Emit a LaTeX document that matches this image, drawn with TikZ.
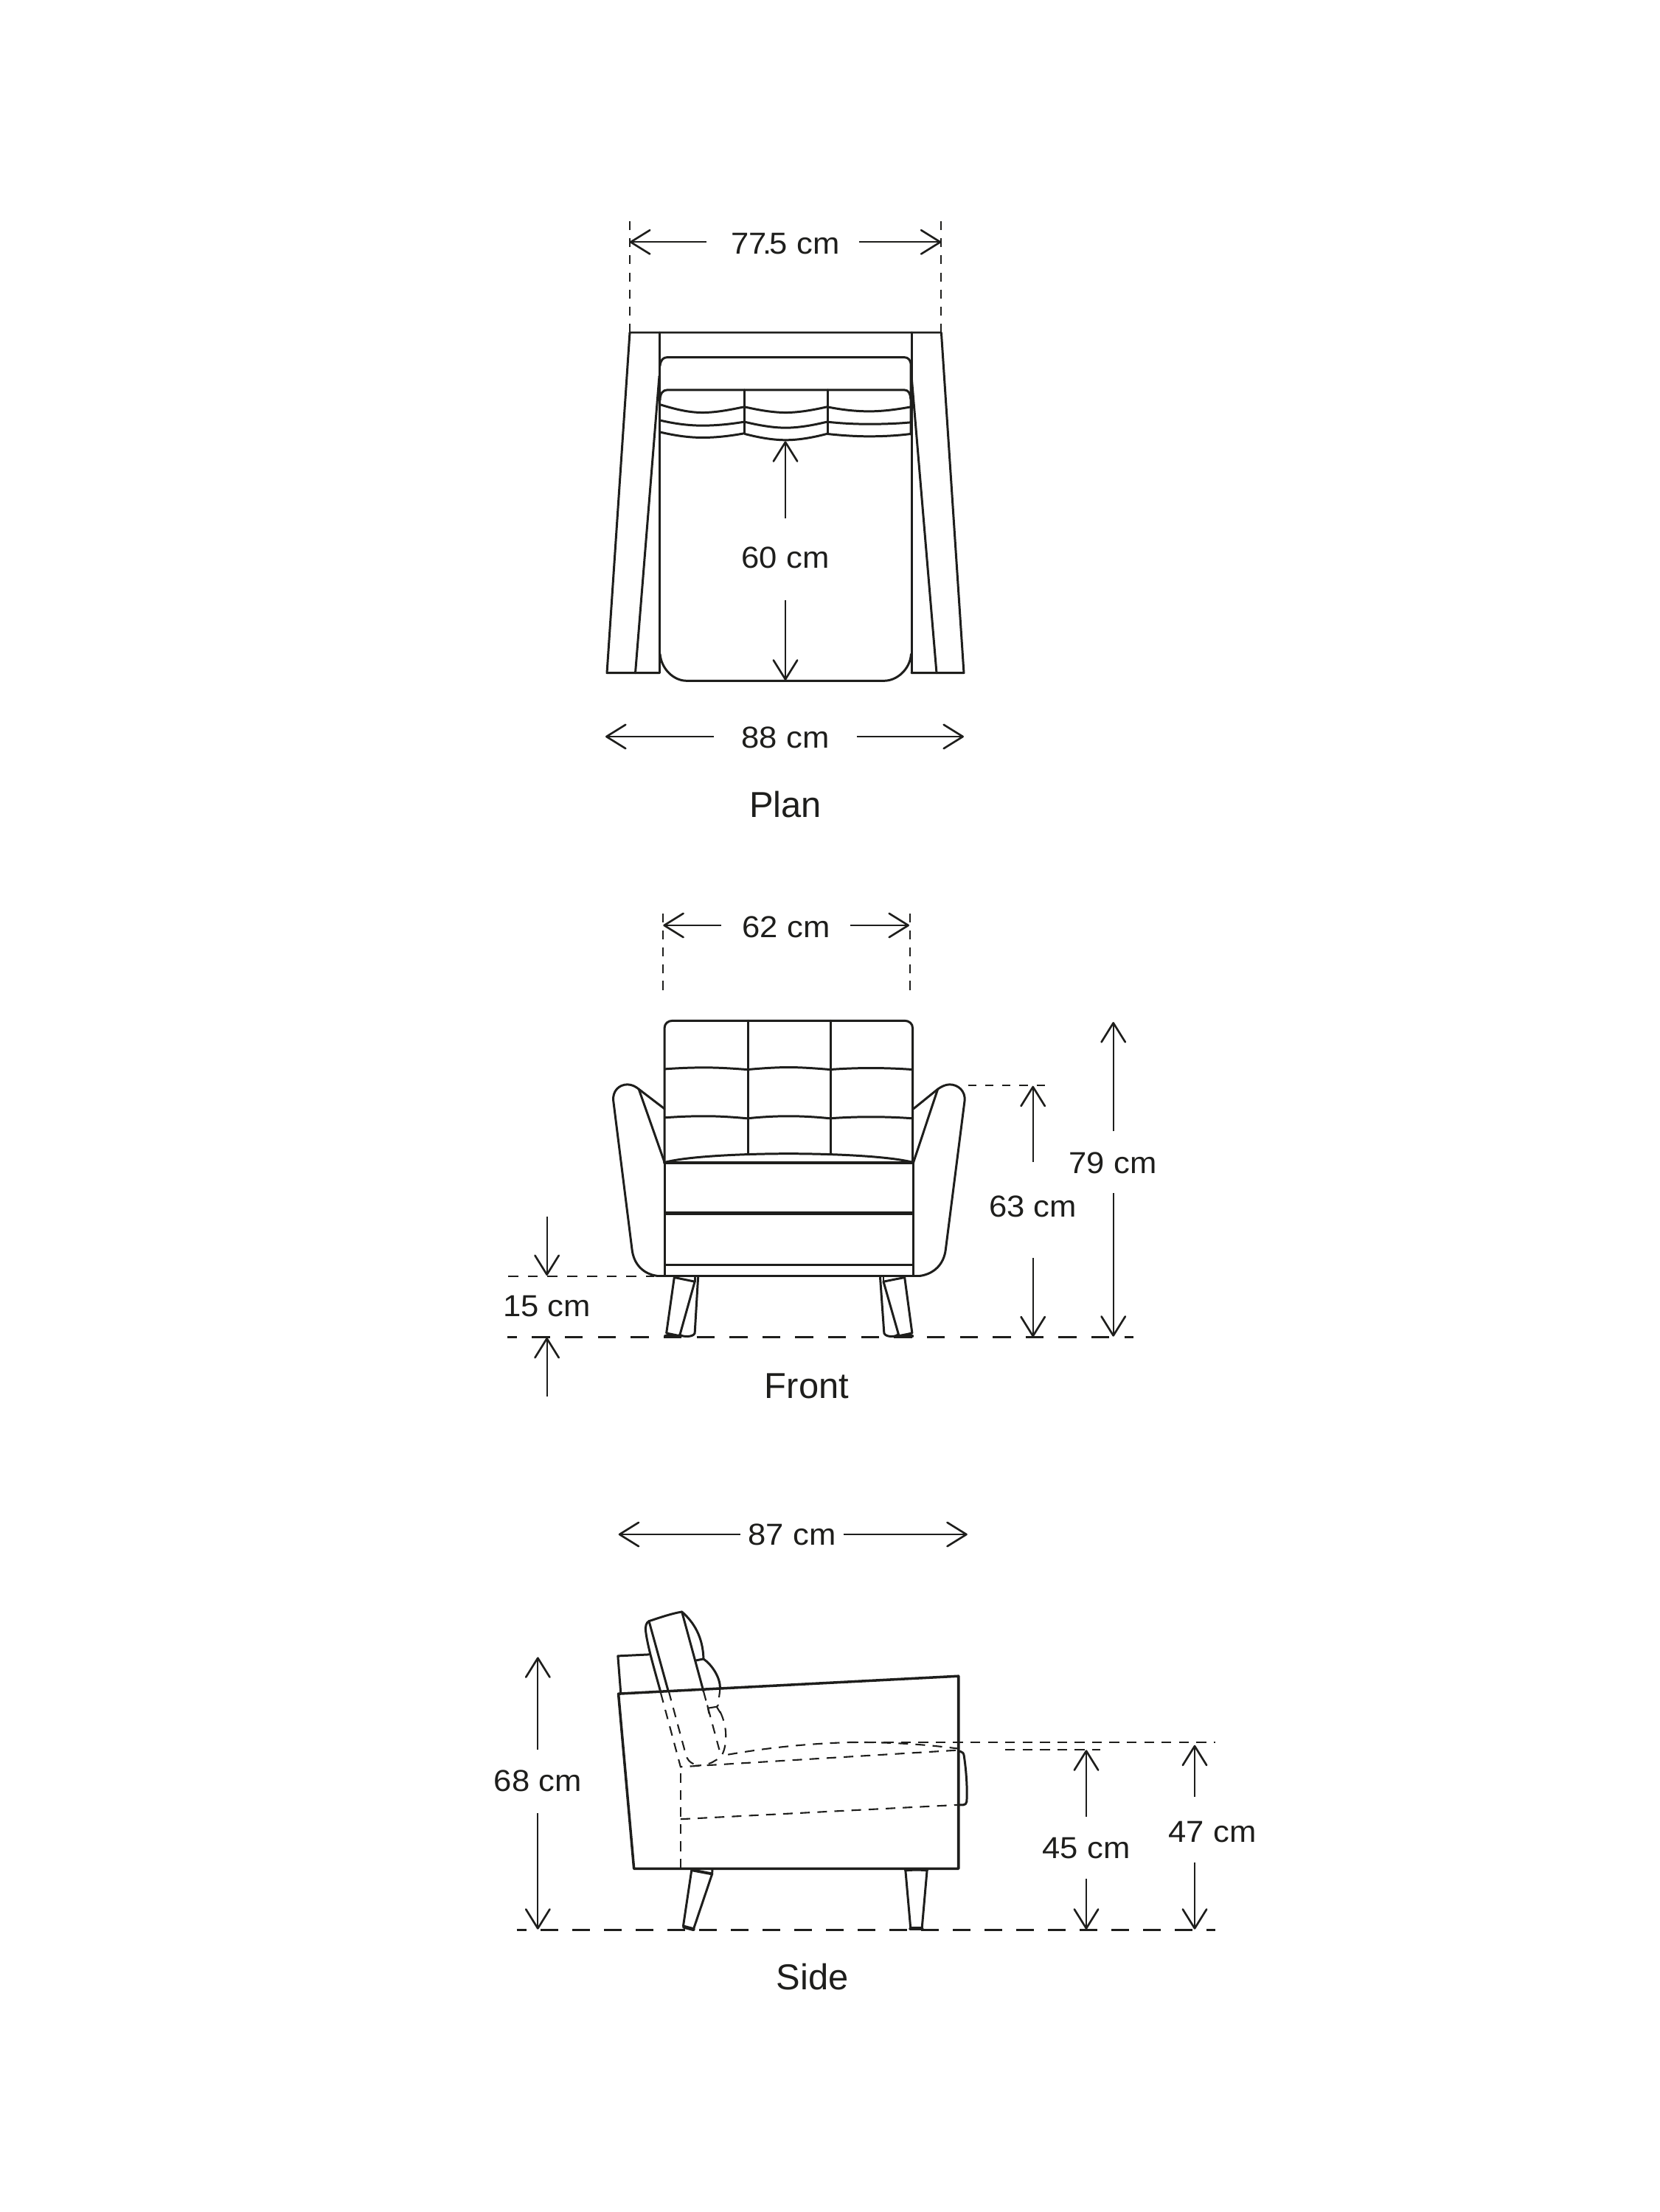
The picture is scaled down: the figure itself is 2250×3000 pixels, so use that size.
\documentclass[tikz,border=0pt]{standalone}
\usepackage{fontspec}
\usetikzlibrary{arrows.meta}
\setmainfont{Liberation Sans}
\newfontfamily\dimfamily[FakeStretch=1.06]{Liberation Sans}
\definecolor{ink}{HTML}{1E1E1C}
\tikzset{
  ink lines/.style={draw=ink,line join=round,line cap=round},
  main/.style={ink lines,line width=.85pt},
  thick seam/.style={draw=ink,line width=1.35pt},
  hidden/.style={draw=ink,line width=.6pt,dash pattern=on 3.7pt off 2.9pt},
  guide/.style={draw=ink,line width=.55pt,dash pattern=on 3.4pt off 3.2pt},
  ground/.style={draw=ink,line width=.85pt},
  dimline/.style={draw=ink,line width=.58pt,-{Straight Barb[length=7.4pt,width=9.2pt,line width=.75pt,round]}},
  dimtext/.style={anchor=base,inner sep=0pt,text=ink,font=\dimfamily\fontsize{11.7}{14}\selectfont},
  viewtitle/.style={anchor=base,inner sep=0pt,text=ink,font=\fontsize{13.9}{16}\selectfont},
  zoomA/.style={shift={(780,270)},x=0.0038265cm,y=-0.0033333cm},
  zoomC/.style={shift={(780,1360)},x=0.0038265cm,y=-0.0033333cm},
  zoomD/.style={shift={(680,1630)},x=0.0044643cm,y=-0.0033333cm},
  zoomE/.style={shift={(830,2170)},x=0.0035714cm,y=-0.0033333cm},
  zoomF/.style={shift={(830,2370)},x=0.0057398cm,y=-0.0033333cm},
}
\newcommand{\dimarrow}[3]{%
  \coordinate (#1-s) at (#2);
  \coordinate (#1-t) at (#3);
  \draw[dimline] (#1-s) -- (#1-t);
}
\begin{document}
\begin{tikzpicture}[x=0.01cm,y=-0.01cm]
\useasboundingbox (0,0) rectangle (2250,3000);
\fill[white] (0,0) rectangle (2250,3000);

%% ---------- PLAN ----------
\draw[guide] (854,300) -- (854,450);
\draw[guide] (1276.4,300) -- (1276.4,450);
% arm frames
\draw[main] (894,912.7) -- (823,912.7) -- (854,451) -- (1276.4,451) -- (1307,912.7) -- (1236,912.7);
\draw[main] (861.5,912.7) -- (894,510);
\draw[main] (1270,912.7) -- (1236,510);
\draw[main] (894,451) -- (894,912.7);
\draw[main] (1236,451) -- (1236,912.7);
% seat front
\draw[main] (895,887) .. controls (897,908) and (914,923.3) .. (931,923.3) -- (1199,923.3)
      .. controls (1216,923.3) and (1234,908) .. (1235.5,887);
\begin{scope}[zoomA]
\draw[main] (300,680) .. controls (302,655) and (312,645) .. (325,645) -- (1165,645)
      .. controls (1178,645) and (1188,655) .. (1188,680) -- (1188,960);
\draw[main] (300,820) .. controls (300,790) and (312,778) .. (325,778) -- (1165,778)
      .. controls (1178,778) and (1186,790) .. (1187,815);
\draw[main] (598,778) -- (598,955);
\draw[main] (893,778) -- (893,957);
\draw[main] (302,838) .. controls (350,855) and (400,870) .. (450,870) .. controls (500,870) and (550,858) .. (597,847);
\draw[main] (600,847) .. controls (650,860) and (700,870) .. (745,870) .. controls (790,870) and (840,860) .. (890,847);
\draw[main] (893,847) .. controls (940,858) and (990,865) .. (1040,865) .. controls (1090,865) and (1140,857) .. (1187,847);
\draw[main] (302,902) .. controls (350,915) and (400,923) .. (450,923) .. controls (500,923) and (550,917) .. (597,908);
\draw[main] (600,908) .. controls (650,922) and (700,932) .. (745,932) .. controls (790,932) and (840,922) .. (890,908);
\draw[main] (893,908) .. controls (940,914) and (990,917) .. (1040,917) .. controls (1090,917) and (1140,915) .. (1187,910);
\draw[main] (302,950) .. controls (350,963) and (400,972) .. (450,972) .. controls (500,972) and (550,965) .. (597,955);
\draw[main] (600,957) .. controls (650,972) and (700,982) .. (745,982) .. controls (790,982) and (840,972) .. (890,957);
\draw[main] (893,957) .. controls (940,963) and (990,967) .. (1040,967) .. controls (1090,967) and (1140,964) .. (1187,957);
\end{scope}
\dimarrow{dA}{958,328.3}{853.9,328.3}
\dimarrow{dB}{1164.6,328.3}{1276.4,328.3}
\node[dimtext] (t775) at (1065,344) {77\kern-1.6pt.\kern-.8pt5 cm};
\dimarrow{dC}{1065,703.3}{1065,598.3}
\dimarrow{dD}{1065,814.3}{1065,922.7}
\node[dimtext] (t60) at (1065,770.7) {60 cm};
\dimarrow{dE}{968.3,999}{821,999}
\dimarrow{dF}{1161.6,999}{1307,999}
\node[dimtext] (t88) at (1065,1014) {88 cm};
\node[viewtitle] (tplan) at (1065,1108) {Plan};

%% ---------- FRONT ----------
\draw[guide,dash pattern=on 3.5pt off 3pt] (898.7,1239) -- (898.7,1344);
\draw[guide,dash pattern=on 3.5pt off 3pt] (1233.7,1239) -- (1233.7,1344);
\dimarrow{dG}{978,1255}{899.3,1255}
\dimarrow{dH}{1153,1255}{1233,1255}
\node[dimtext] (t62) at (1066,1271) {62 cm};
\begin{scope}[zoomC]
\draw[main] (316,650) -- (316,103) .. controls (316,85) and (328,73) .. (345,73) -- (1165,73)
     .. controls (1182,73) and (1194,85) .. (1194,103) -- (1194,650);
\draw[main] (611,73) -- (611,616);
\draw[main] (903,73) -- (903,616);
\draw[main] (318,270) .. controls (380,265) and (420,264) .. (460,264) .. controls (510,264) and (560,268) .. (607,272);
\draw[main] (611,272) .. controls (660,267) and (710,263) .. (755,263) .. controls (800,263) and (850,267) .. (900,272);
\draw[main] (903,272) .. controls (950,268) and (1000,266) .. (1045,266) .. controls (1095,266) and (1145,268) .. (1192,272);
\draw[main] (318,468) .. controls (380,463) and (420,462) .. (460,462) .. controls (510,462) and (560,466) .. (607,471);
\draw[main] (611,471) .. controls (660,465) and (710,462) .. (755,462) .. controls (800,462) and (850,465) .. (900,471);
\draw[main] (903,471) .. controls (950,467) and (1000,465) .. (1045,465) .. controls (1095,465) and (1145,467) .. (1192,471);
\draw[main] (318,650) .. controls (400,625) and (600,615) .. (755,615) .. controls (910,615) and (1110,625) .. (1194,650);
\draw[main,line width=1.1pt] (316,652) -- (1196,652);
\draw[main] (317,652) -- (317,1113);
\draw[main] (1196,652) -- (1196,1113);
\draw[thick seam] (318,858) -- (1194,858);
\draw[main] (318,1067) -- (1194,1067);
\draw[main,line width=.95pt] (290,1113) -- (1220,1113);
% arms
\draw[main] (290,1113) .. controls (240,1105) and (207,1065) .. (201,1005) -- (135,400)
     .. controls (131,360) and (155,333) .. (185,333) .. controls (200,333) and (215,342) .. (225,352) -- (316,432);
\draw[main] (225,352) -- (316,650);
\draw[main] (1220,1113) .. controls (1270,1105) and (1305,1065) .. (1311,1005) -- (1378,400)
     .. controls (1382,360) and (1355,333) .. (1325,333) .. controls (1310,333) and (1295,342) .. (1283,352) -- (1197,432);
\draw[main] (1283,352) -- (1197,650);
\end{scope}
\begin{scope}[zoomD]
% left leg
\draw[main] (524,306) -- (500,535) -- (540,546) -- (586,325) -- (524,308);
\draw[main] (586,308) -- (586,325);
\draw[main] (596,308) -- (586,535) .. controls (582,552) and (548,552) .. (540,540);
\draw[main,line width=1.3pt] (497,547) -- (543,547);
% right leg
\draw[main] (1222,306) -- (1245,535) -- (1205,546) -- (1158,325) -- (1222,308);
\draw[main] (1158,308) -- (1158,325);
\draw[main] (1148,308) -- (1160,535) .. controls (1164,552) and (1196,552) .. (1202,540);
\draw[main,line width=1.3pt] (1203,547) -- (1245,547);
\end{scope}
\draw[guide,dash pattern=on 3.9pt off 3.7pt] (689,1731) -- (887,1731);
\draw[guide,dash pattern=on 3.2pt off 3.4pt] (1312.7,1471.7) -- (1418,1471.7);
\draw[ground,dash pattern=on 6.95pt off 5.74pt,dash phase=3.2pt] (688,1813.7) -- (1537.3,1813.7);
\dimarrow{dI}{741.6,1650}{741.6,1730}
\dimarrow{dJ}{741.6,1894}{741.6,1814}
\node[dimtext] (t15) at (741.6,1785) {15 cm};
\node[viewtitle] (tfront) at (1094,1896.7) {Front};
\dimarrow{dK}{1400.7,1575.7}{1400.7,1472.7}
\dimarrow{dL}{1400.7,1706}{1400.7,1813.3}
\node[dimtext] (t63) at (1400.7,1650) {63 cm};
\dimarrow{dM}{1509.7,1534.3}{1509.7,1386}
\dimarrow{dN}{1509.7,1618.3}{1509.7,1812.7}
\node[dimtext] (t79) at (1509,1591) {79 cm};

%% ---------- SIDE ----------
\dimarrow{dO}{1003.9,2081}{838.7,2081}
\dimarrow{dP}{1143.5,2081}{1311.8,2081}
\node[dimtext] (t87) at (1074,2095.7) {87 cm};
\begin{scope}[zoomE]
\draw[main] (33,380) -- (22,228) -- (140,222);
\draw[main,line width=1pt] (24,382) -- (83,1095) -- (1315,1095) -- (1315,310) -- cycle;
% headrest
\draw[main] (185,378) .. controls (160,280) and (135,190) .. (128,130) .. controls (125,105) and (130,92) .. (140,86)
   .. controls (180,72) and (225,55) .. (265,48) .. controls (310,90) and (345,150) .. (347,240)
   .. controls (380,265) and (410,315) .. (410,358);
\draw[main] (140,86) -- (213,370);
\draw[main] (265,48) -- (347,372);
\draw[main] (315,247) -- (347,240);
% hidden lines
\draw[hidden] (185,380) -- (260,680) -- (1310,612);
\draw[hidden] (215,372) -- (280,630) .. controls (285,650) and (295,662) .. (310,668);
\draw[hidden] (347,372) -- (407,610);
\draw[hidden] (410,358) .. controls (408,385) and (405,400) .. (403,425);
\draw[hidden] (410,455) .. controls (440,520) and (435,590) .. (420,625) .. controls (410,645) and (395,652) .. (390,655) .. controls (370,670) and (340,675) .. (315,675);
\draw[main,line width=.6pt] (362,430) -- (368,462);
\draw[main,line width=.6pt] (367,440) -- (397,435);
\draw[main,line width=.6pt] (397,435) -- (403,428);
\draw[main,line width=.6pt] (397,435) -- (410,458);
\draw[hidden] (440,630) .. controls (600,600) and (750,585) .. (900,580) .. controls (1060,578) and (1200,590) .. (1310,605);
\draw[hidden] (260,705) -- (260,1093);
\draw[hidden] (260,893) -- (1310,835);
\draw[main] (1315,617) -- (1322,617) .. controls (1330,618) and (1335,625) .. (1336,635)
   .. controls (1345,700) and (1349,770) .. (1346,822) .. controls (1345,830) and (1340,835) .. (1332,835) -- (1315,835);
\end{scope}
\draw[guide,line width=.6pt,dash pattern=on 3.8pt off 2.9pt] (1151,2362.7) -- (1648,2362.7);
\draw[guide,line width=.6pt,dash pattern=on 3.8pt off 2.9pt] (1363,2372.7) -- (1492,2372.7);
\begin{scope}[zoomF]
\draw[main] (188,497) -- (168,728) -- (192,742) -- (236,517) -- (237,497);
\draw[main,line width=1.1pt] (190,500) -- (236,515);
\draw[main,line width=1.4pt] (170,731) -- (192,741);
\draw[main] (693,500) -- (705,735) -- (732,735) -- (744,500);
\draw[main,line width=1.1pt] (693,500) .. controls (710,497) and (730,497) .. (744,500);
\draw[main,line width=1.4pt] (705,739) -- (732,739);
\end{scope}
\draw[ground,dash pattern=on 6.9pt off 5.33pt,dash phase=3.05pt] (700.7,2617.7) -- (1648,2617.7);
\dimarrow{dQ}{729.3,2372.7}{729.3,2247.3}
\dimarrow{dR}{729.3,2459.3}{729.3,2616.7}
\node[dimtext] (t68) at (729.3,2429) {68 cm};
\dimarrow{dS}{1473,2464}{1473,2373.3}
\dimarrow{dT}{1473,2548.3}{1473,2616.7}
\node[dimtext] (t45) at (1473,2520) {45 cm};
\dimarrow{dU}{1620,2436.7}{1620,2366.7}
\dimarrow{dV}{1620,2525.7}{1620,2616.7}
\node[dimtext] (t47) at (1644,2498.3) {47 cm};
\node[viewtitle] (tside) at (1101.7,2698.3) {Side};
\end{tikzpicture}
\end{document}
